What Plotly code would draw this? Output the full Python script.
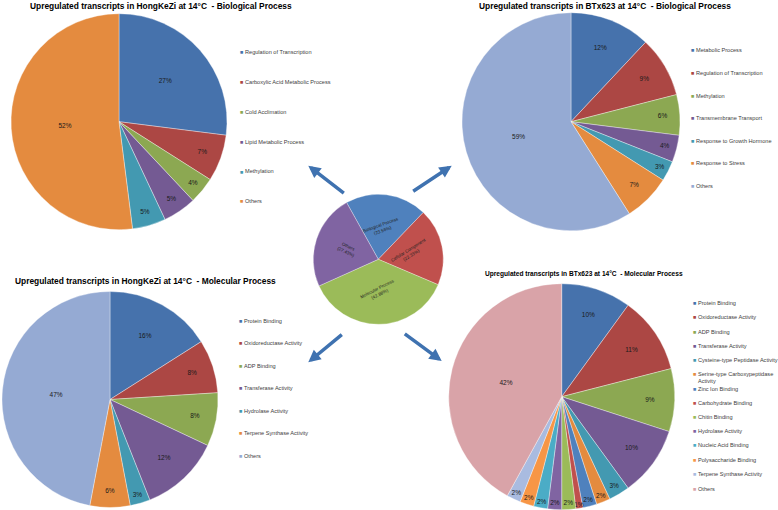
import math
import plotly.graph_objects as go

W, H = 778, 510

# ---------------- data ----------------
center_labels = ["Biological Process", "Cellular Component", "Molecular Process", "Others"]
center_values = [23.56, 22.33, 42.88, 27.43]
center_text = ["Biological Process<br>(23.56%)", "Cellular Component<br>(22.33%)",
               "Molecular Process<br>(42.88%)", "Others<br>(27.43%)"]

bp_hkz_labels = ["Regulation of Transcription", "Carboxylic Acid Metabolic Process",
                 "Cold Acclimation", "Lipid Metabolic Process", "Methylation", "Others"]
bp_hkz_values = [27, 7, 4, 5, 5, 52]

bp_btx_labels = ["Metabolic Process", "Regulation of Transcription", "Methylation",
                 "Transmembrane Transport", "Response to Growth Hormone",
                 "Response to Stress", "Others"]
bp_btx_values = [12, 9, 6, 4, 3, 7, 59]

mp_hkz_labels = ["Protein Binding", "Oxidoreductase Activity", "ADP Binding",
                 "Transferase Activity", "Hydrolase Activity",
                 "Terpene Synthase Activity", "Others"]
mp_hkz_values = [16, 8, 8, 12, 3, 6, 47]

mp_btx_labels = ["Protein Binding", "Oxidoreductase Activity", "ADP Binding",
                 "Transferase Activity", "Cysteine-type Peptidase Activity",
                 "Serine-type Carboxypeptidase<br>Activity", "Zinc Ion Binding",
                 "Carbohydrate Binding", "Chitin Binding", "Hydrolase Activity",
                 "Nucleic Acid Binding", "Polysaccharide Binding",
                 "Terpene Synthase Activity", "Others"]
mp_btx_values = [10, 11, 9, 10, 3, 2, 2, 1, 2, 2, 2, 2, 2, 42]

titles = ["Upregulated transcripts in HongKeZi at 14°C  - Biological Process",
          "Upregulated transcripts in BTx623 at 14°C  - Biological Process",
          "Upregulated transcripts in HongKeZi at 14°C  - Molecular Process",
          "Upregulated transcripts in BTx623 at 14°C  - Molecular Process"]

# ---------------- styles ----------------
C1 = ["#4672AC", "#AC4744", "#8CA852", "#745A93", "#4399B1", "#E48B3F", "#95AAD3"]
C_BP_HKZ = C1[:6]
C_BP_BTX = C1[:5] + ["#E48B3F", "#95AAD3"]
C_MP_HKZ = C1[:7]
C_MP_BTX = C1[:6] + ["#4F81BD", "#C0504D", "#9BBB59", "#8064A2", "#4BACC6",
                     "#F79646", "#A9BBE0", "#D9A3A8"]
C_CENTER = ["#4F81BD", "#C0504D", "#9BBB59", "#8064A2"]

FONT = "Arial, Liberation Sans, sans-serif"
LEG_FS = 5.6


def px(x):
    return x / W


def py(y):
    return 1 - y / H


def dom(cx, cy, r):
    return dict(x=[px(cx - r), px(cx + r)], y=[py(cy + r), py(cy - r)])


fig = go.Figure()


def add_pie(labels, values, colors, cx, cy, r):
    fig.add_trace(go.Pie(
        labels=labels, values=values, sort=False, direction="clockwise",
        rotation=0, domain=dom(cx, cy, r),
        marker=dict(colors=colors, line=dict(color="rgba(255,255,255,0.6)", width=0.6)),
        textinfo="percent", textposition="inside",
        insidetextorientation="horizontal",
        textfont=dict(size=6.5, color="#1a1a1a", family=FONT),
        showlegend=False, hoverinfo="label+percent"))


add_pie(bp_hkz_labels, bp_hkz_values, C_BP_HKZ, 119, 121.7, 108)
add_pie(bp_btx_labels, bp_btx_values, C_BP_BTX, 571, 121.7, 109)
add_pie(mp_hkz_labels, mp_hkz_values, C_MP_HKZ, 110, 399.5, 108)
add_pie(mp_btx_labels, mp_btx_values, C_MP_BTX, 561.7, 396.7, 113)

# center pie
CCX, CCY, CR = 378.3, 259.3, 65
C_ROT = -29.2
fig.add_trace(go.Pie(
    labels=center_labels, values=center_values, sort=False, direction="clockwise",
    rotation=C_ROT, domain=dom(CCX, CCY, CR),
    marker=dict(colors=C_CENTER, line=dict(color="rgba(255,255,255,0.5)", width=0.6)),
    textinfo="none", showlegend=False, hoverinfo="label+value"))

annotations = []
tot = sum(center_values)
acc = C_ROT
angles = [-20, -32, -27, 25]
for i, v in enumerate(center_values):
    span = v / tot * 360
    mid = math.radians(acc + span / 2)
    acc += span
    lx = CCX + 0.5 * CR * math.sin(mid)
    ly = CCY - 0.5 * CR * math.cos(mid)
    annotations.append(dict(x=px(lx), y=py(ly), xref="paper", yref="paper",
                            text=center_text[i], showarrow=False, textangle=angles[i],
                            font=dict(size=4.5, color="#222", family=FONT)))

# titles
title_pos = [(161, 6, 8.4), (605, 6, 8.4), (145, 281, 8.4), (584, 274, 6.6)]
for t, (tx, ty, fs) in zip(titles, title_pos):
    annotations.append(dict(x=px(tx), y=py(ty), xref="paper", yref="paper", text="<b>%s</b>" % t,
                            showarrow=False, xanchor="center", yanchor="middle",
                            font=dict(size=fs, color="#000", family=FONT)))


def legend_item(lab, col, x0, y):
    annotations.append(dict(x=px(x0), y=py(y), xref="paper", yref="paper", text="■",
                            showarrow=False, xanchor="center", yanchor="middle",
                            font=dict(size=5.5, color=col, family=FONT)))
    annotations.append(dict(x=px(x0 + 2.5), y=py(y - 4.0), xref="paper", yref="paper",
                            text=lab, showarrow=False, xanchor="left", yanchor="top",
                            align="left", borderpad=0,
                            font=dict(size=LEG_FS, color="#404040", family=FONT)))


def add_legend(labels, colors, x0, y0, dy):
    for i, (lab, col) in enumerate(zip(labels, colors)):
        legend_item(lab, col, x0, y0 + i * dy)


add_legend(bp_hkz_labels, C_BP_HKZ, 241, 52.3, 29.8)
add_legend(bp_btx_labels, C_BP_BTX, 692, 50.3, 22.6)
add_legend(mp_hkz_labels, C_MP_HKZ, 240, 320.7, 22.55)
btx_y = [302.7, 317.3, 331.7, 346.0, 360.3, 374.3, 388.7, 402.7, 417.0, 431.0, 445.3, 459.7, 474.0, 488.5]
for lab, col, y in zip(mp_btx_labels, C_MP_BTX, btx_y):
    legend_item(lab, col, 694, y)

# arrows (head, tail) in pixels
arrows = [((308.3, 165.7), (345.3, 194.3)),
          ((451.7, 165.7), (411.7, 192.3)),
          ((308.3, 362.3), (343.3, 333.3)),
          ((441.7, 361.0), (403.3, 332.7))]
for (hx, hy), (tx, ty) in arrows:
    annotations.append(dict(x=px(hx), y=py(hy), xref="paper", yref="paper", text="",
                            showarrow=True, ax=tx - hx, ay=ty - hy, axref="pixel", ayref="pixel",
                            arrowhead=2, arrowsize=0.7, arrowwidth=3.5, arrowcolor="#3F72B0"))

fig.update_layout(
    width=W, height=H, margin=dict(l=0, r=0, t=0, b=0),
    paper_bgcolor="white", plot_bgcolor="white",
    annotations=annotations,
    uniformtext=dict(minsize=6.5, mode="show"),
    font=dict(family=FONT),
)

fig.write_html("out.html", config={"displayModeBar": False},
               post_script="document.body.style.margin='0';")
